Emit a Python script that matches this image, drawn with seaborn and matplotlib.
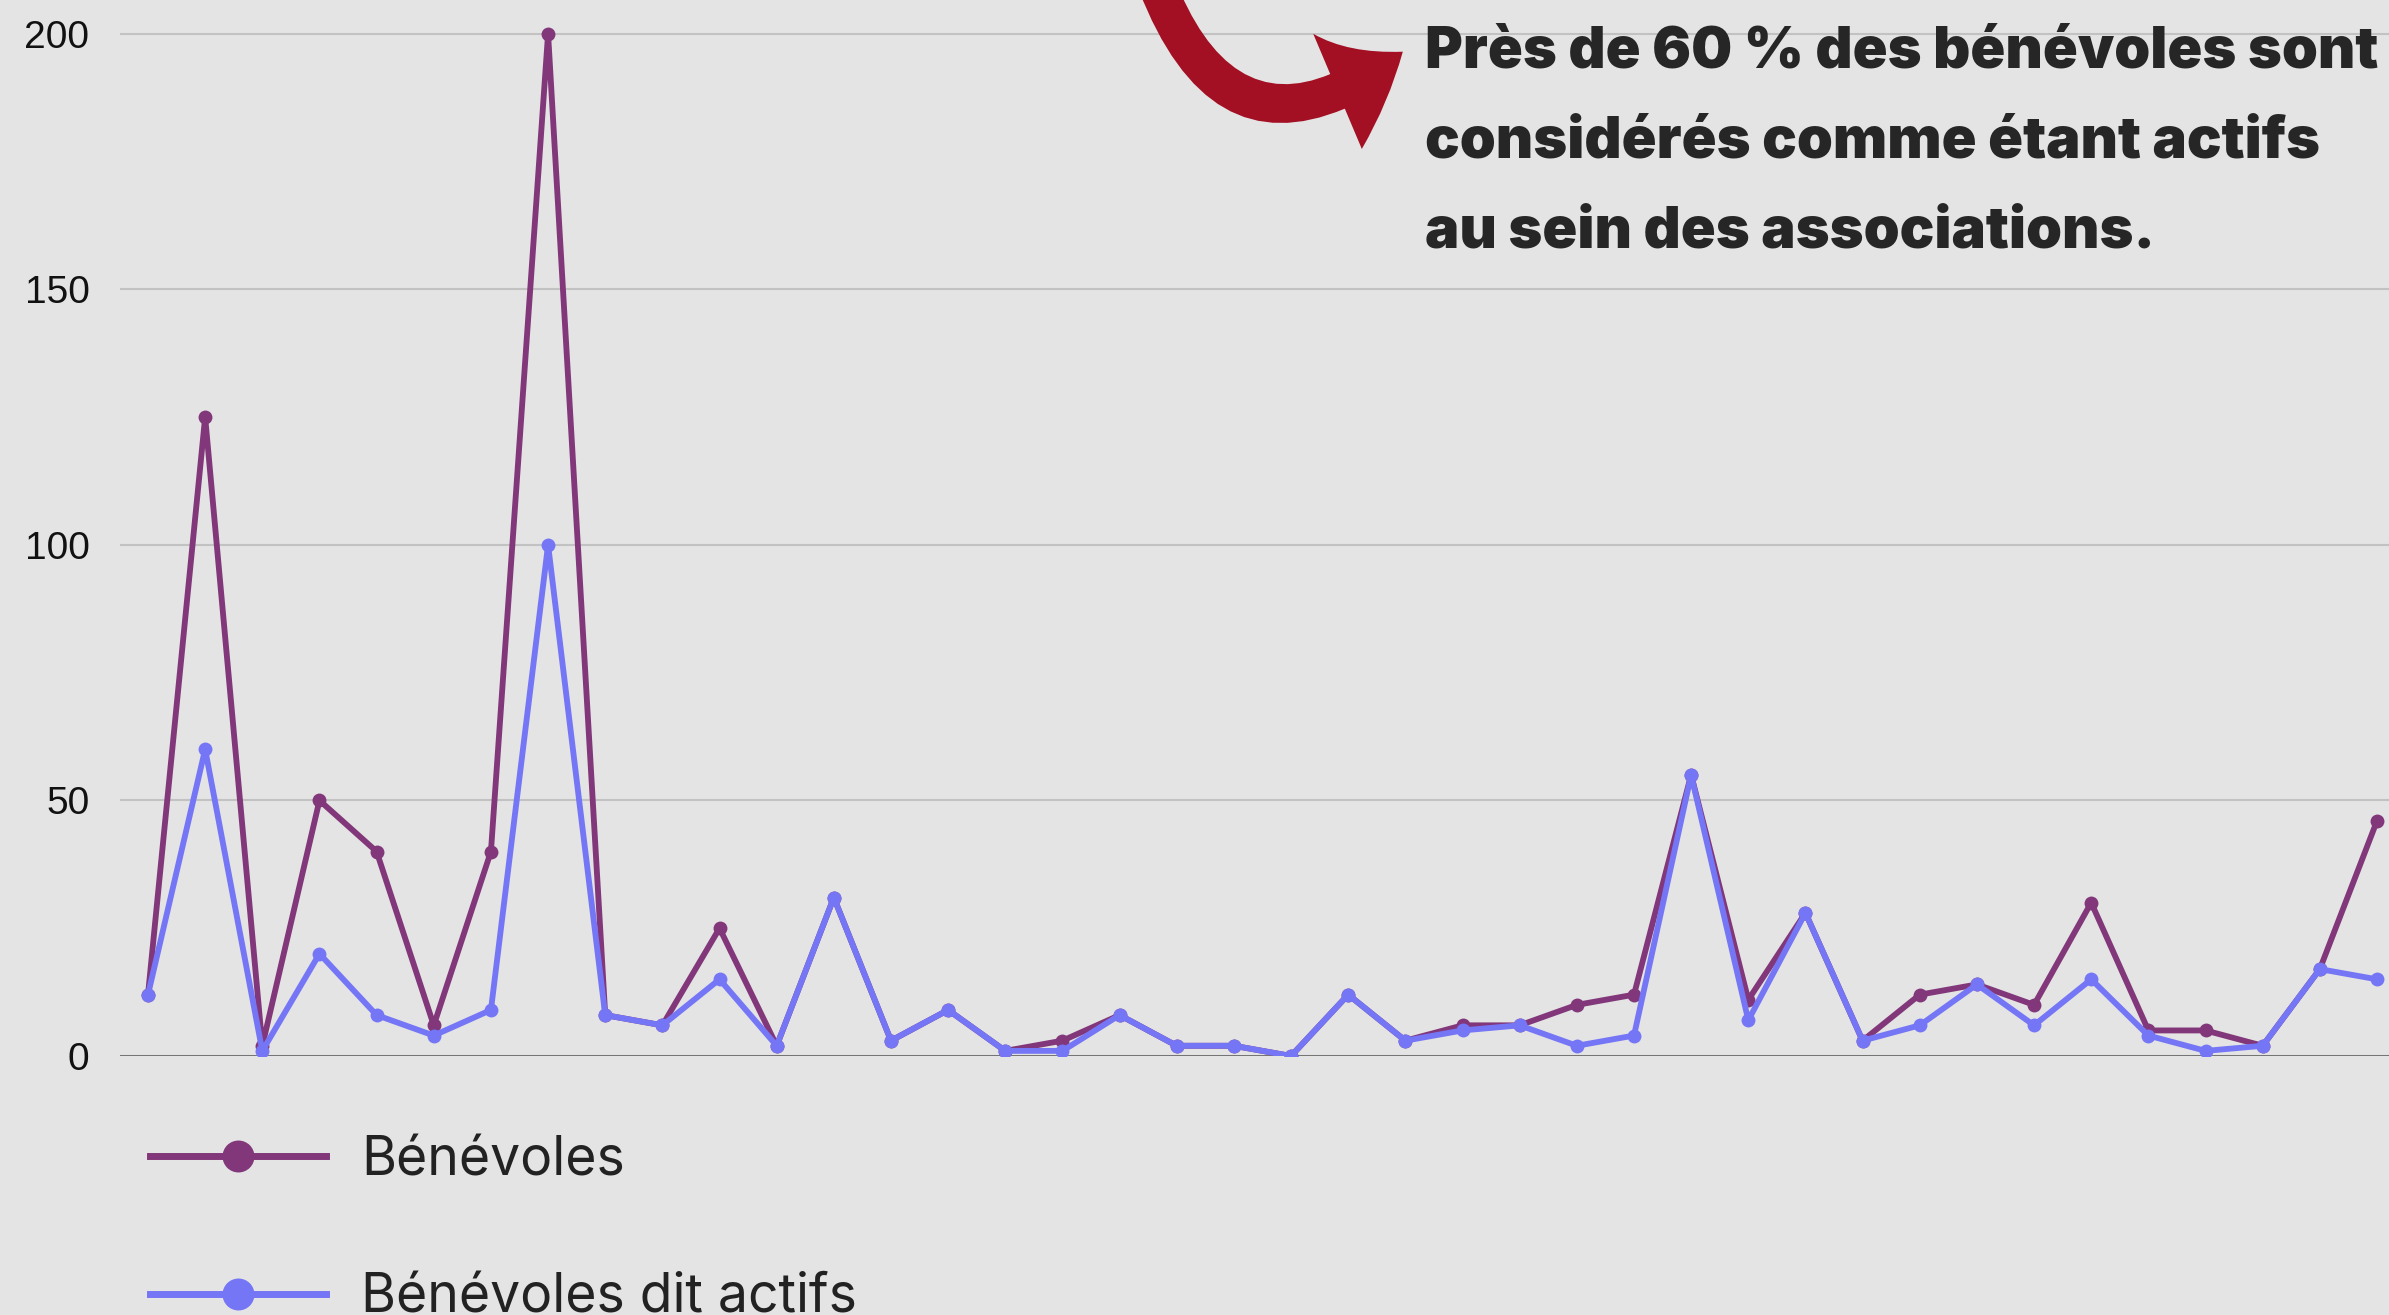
import numpy as np
import pandas as pd
import seaborn as sns
import matplotlib.pyplot as plt
from matplotlib.lines import Line2D
from matplotlib.patches import FancyArrowPatch

# valeurs (40 associations)
benevoles = [12, 125, 2, 50, 40, 6, 40, 200, 8, 6,
             25, 2, 31, 3, 9, 1, 3, 8, 2, 2,
             0, 12, 3, 6, 6, 10, 12, 55, 11, 28,
             3, 12, 14, 10, 30, 5, 5, 2, 17, 46]
benevoles_actifs = [12, 60, 1, 20, 8, 4, 9, 100, 8, 6,
                    15, 2, 31, 3, 9, 1, 1, 8, 2, 2,
                    0, 12, 3, 5, 6, 2, 4, 55, 7, 28,
                    3, 6, 14, 6, 15, 4, 1, 2, 17, 15]
series = ["Bénévoles", "Bénévoles dit actifs"]
couleurs = ["#81377a", "#7576f6"]
y_ticks = [0, 50, 100, 150, 200]
message = ["Près de 60 % des bénévoles sont",
           "considérés comme étant actifs",
           "au sein des associations."]

n = len(benevoles)
df = pd.DataFrame({
    "asso": list(range(n)) * 2,
    "valeur": benevoles + benevoles_actifs,
    "serie": [series[0]] * n + [series[1]] * n,
})

W, H = 2389, 1315
bg = "#e4e4e4"
fig = plt.figure(figsize=(W / 100, H / 100), dpi=100, facecolor=bg)
ax = fig.add_axes([120 / W, (H - 1056) / H, (W - 120) / W, 1056 / H])
ax.set_facecolor(bg)

sns.lineplot(data=df, x="asso", y="valeur", hue="serie", palette=couleurs,
             marker="o", markersize=10, markeredgewidth=0, linewidth=4.2,
             legend=False, ax=ax, zorder=3)

ax.set_xlim(-0.49, n - 1 + 0.21)
ax.set_ylim(0, 206.6)
ax.set_yticks(y_ticks)
ax.set_xticks([])
ax.set_xlabel("")
ax.set_ylabel("")
for s in ax.spines.values():
    s.set_visible(False)
ax.yaxis.grid(True, color="#c2c2c2", linewidth=1.5, zorder=0)
ax.set_axisbelow(True)
ax.axhline(0, color="#5c5c5c", linewidth=1.8, zorder=1.5)
ax.tick_params(axis="y", length=0, pad=22, labelsize=28, labelcolor="#111111")
for lab in ax.get_yticklabels():
    lab.set_family("Liberation Sans")

# legende
handles = [Line2D([], [], color=c, linewidth=5, marker="o", markersize=23,
                  markeredgewidth=0) for c in couleurs]
fig.legend(handles, series, loc="upper left", bbox_to_anchor=(150 / W, 1 - 1135 / H),
           frameon=False, prop={"family": "Inter", "size": 38.5},
           handlelength=3.3, handletextpad=0.65, labelspacing=1.62,
           borderpad=0, borderaxespad=0, labelcolor="#222222")

# message
for i, ligne in enumerate(message):
    fig.text(1425 / W, 1 - (68 + 90 * i) / H, ligne, ha="left", va="baseline",
             fontsize=41.5, fontweight=900, family="Inter", color="#262626")

# fleche rouge
fleche = FancyArrowPatch((1155 / W, 1 + 20 / H), (1405 / W, 1 - 50 / H),
                         transform=fig.transFigure,
                         connectionstyle="arc3,rad=0.68",
                         arrowstyle="simple,head_width=9,head_length=5.5,tail_width=2.7",
                         mutation_scale=10, color="#a30f23", linewidth=0)
fig.patches.append(fleche)

fig.savefig("out.png", dpi=100, facecolor=bg)
